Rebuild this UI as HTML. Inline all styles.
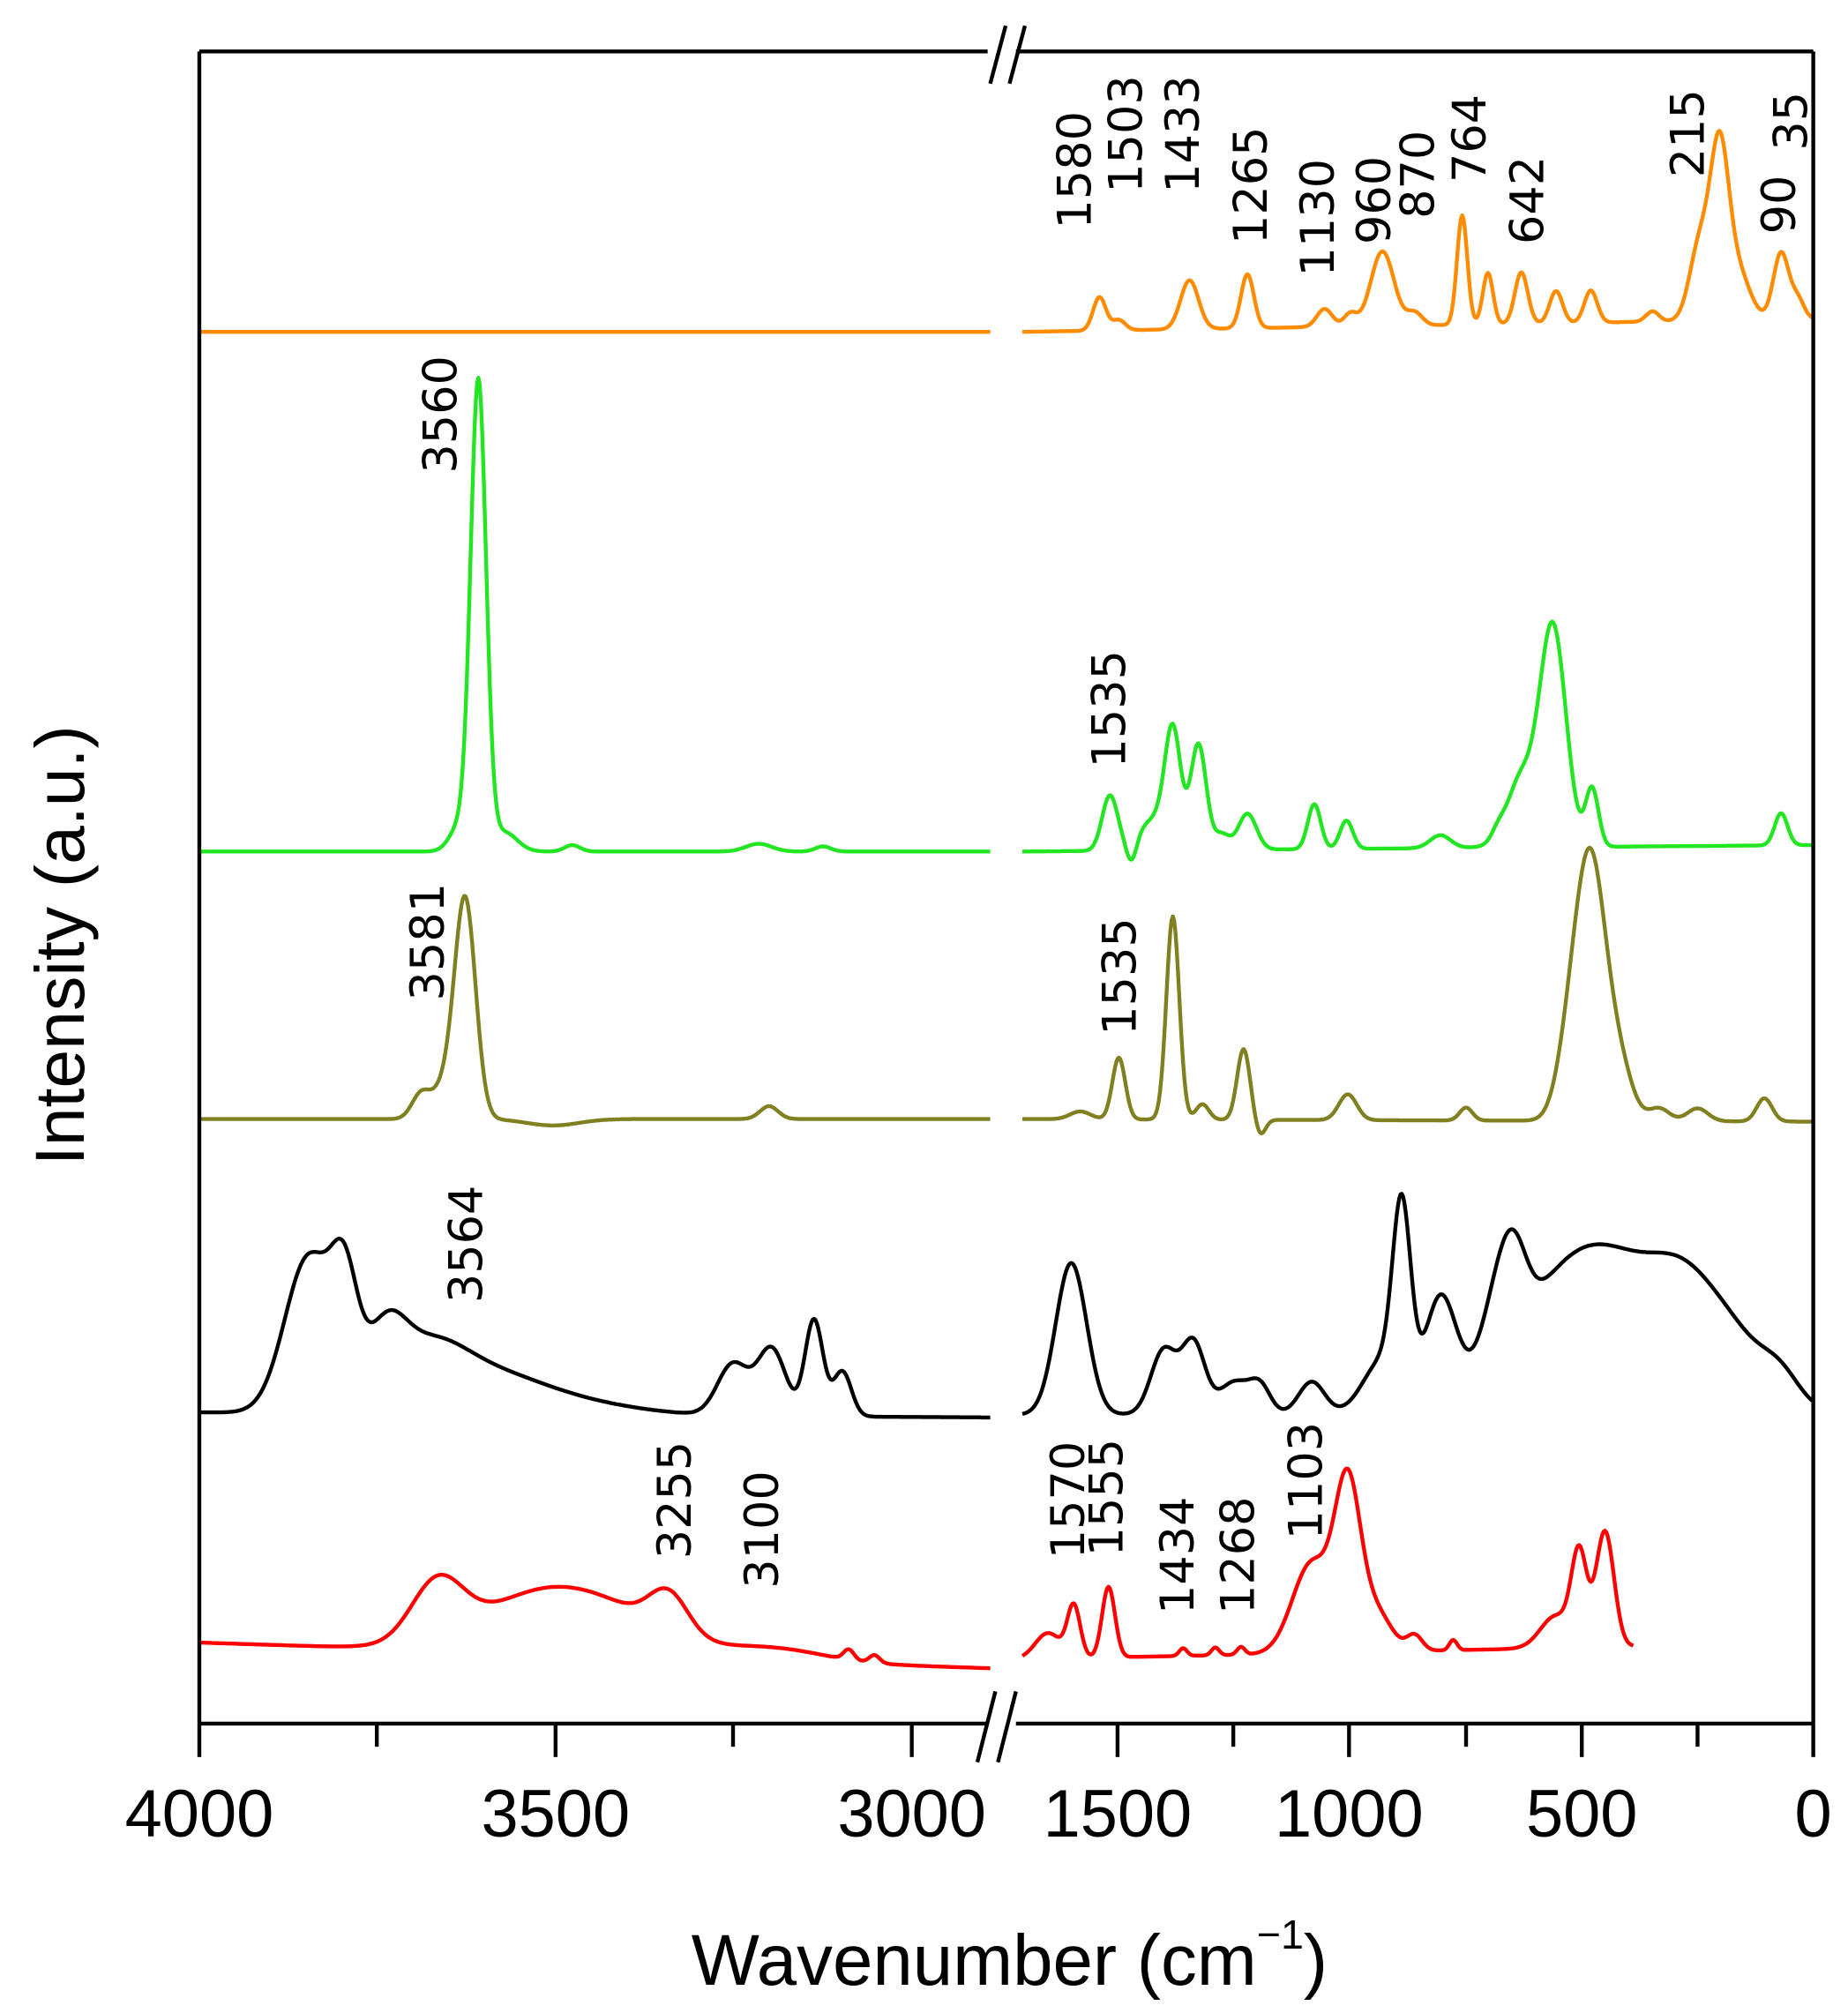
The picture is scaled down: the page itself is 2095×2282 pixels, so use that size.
<!DOCTYPE html>
<html><head><meta charset="utf-8"><style>html,body{margin:0;padding:0;background:#fff}svg{display:block}</style></head>
<body>
<svg id="s" width="2095" height="2282" viewBox="0 0 1437 1565" preserveAspectRatio="none" xmlns="http://www.w3.org/2000/svg">
<rect width="1437" height="1565" fill="#fff"/>
<g id="curves" fill="none" stroke-width="3" stroke-linejoin="round"></g>
<g stroke="#000" stroke-width="3" fill="none">
<line x1="155" y1="40" x2="1410" y2="40"/>
<line x1="155" y1="1340" x2="1410" y2="1340"/>
<line x1="155" y1="40" x2="155" y2="1340"/>
<line x1="1410" y1="40" x2="1410" y2="1340"/>
</g>
<g stroke="#fff" stroke-width="8"><line x1="768" y1="40" x2="790" y2="40"/><line x1="768" y1="1340" x2="790" y2="1340"/></g>
<g stroke="#000" stroke-width="3">
<line x1="770" y1="65" x2="782" y2="20"/><line x1="785" y1="65" x2="797" y2="20"/>
<line x1="760" y1="1370" x2="774" y2="1315"/><line x1="776" y1="1370" x2="790" y2="1315"/>
<line x1="155" y1="1340" x2="155" y2="1366"/><line x1="432" y1="1340" x2="432" y2="1366"/><line x1="709" y1="1340" x2="709" y2="1366"/>
<line x1="293" y1="1340" x2="293" y2="1358"/><line x1="570" y1="1340" x2="570" y2="1358"/>
<line x1="869" y1="1340" x2="869" y2="1366"/><line x1="1049" y1="1340" x2="1049" y2="1366"/><line x1="1230" y1="1340" x2="1230" y2="1366"/><line x1="1410" y1="1340" x2="1410" y2="1366"/>
<line x1="959" y1="1340" x2="959" y2="1358"/><line x1="1140" y1="1340" x2="1140" y2="1358"/><line x1="1320" y1="1340" x2="1320" y2="1358"/>
</g>
<g font-family="Liberation Sans, Arial, sans-serif" font-size="52" text-anchor="middle" fill="#000">
<text x="155" y="1428">4000</text><text x="432" y="1428">3500</text><text x="709" y="1428">3000</text>
<text x="869" y="1428">1500</text><text x="1049" y="1428">1000</text><text x="1230" y="1428">500</text><text x="1410" y="1428">0</text>
<text x="785" y="1543" font-size="56">Wavenumber (cm<tspan font-size="32" dy="-28">−1</tspan><tspan dy="28">)</tspan></text>
<text transform="translate(65,735) rotate(-90)" font-size="54">Intensity (a.u.)</text>
</g>
<g font-family="DejaVu Sans, Liberation Sans, sans-serif" font-size="36" fill="#000">
<text transform="translate(848,178) rotate(-90)">1580</text>
<text transform="translate(888,150) rotate(-90)">1503</text>
<text transform="translate(932,150) rotate(-90)">1433</text>
<text transform="translate(985,190) rotate(-90)">1265</text>
<text transform="translate(1037,215) rotate(-90)">1130</text>
<text transform="translate(1081,190) rotate(-90)">960</text>
<text transform="translate(1115,170) rotate(-90)">870</text>
<text transform="translate(1155,142) rotate(-90)">764</text>
<text transform="translate(1200,190) rotate(-90)">642</text>
<text transform="translate(1325,138) rotate(-90)">215</text>
<text transform="translate(1396,182) rotate(-90)">90</text>
<text transform="translate(1405,117) rotate(-90)">35</text>
<text transform="translate(355,368) rotate(-90)">3560</text>
<text transform="translate(875,597) rotate(-90)">1535</text>
<text transform="translate(345,778) rotate(-90)">3581</text>
<text transform="translate(883,805) rotate(-90)">1535</text>
<text transform="translate(375,1013) rotate(-90)">3564</text>
<text transform="translate(537,1212) rotate(-90)">3255</text>
<text transform="translate(605,1235) rotate(-90)">3100</text>
<text transform="translate(843,1212) rotate(-90)">1570</text>
<text transform="translate(873,1210) rotate(-90)">1555</text>
<text transform="translate(928,1255) rotate(-90)">1434</text>
<text transform="translate(975,1255) rotate(-90)">1268</text>
<text transform="translate(1028,1197) rotate(-90)">1103</text>
</g>
</svg>
<script>
function mk(x0,x1,b0,b1,peaks){
  var d='';
  for(var x=x0;x<=x1;x+=1){
    var t=(x-x0)/(x1-x0), y=b0+(b1-b0)*t;
    for(var i=0;i<peaks.length;i++){var p=peaks[i];y-=p[1]*Math.exp(-Math.pow((x-p[0])/p[2],2)/2);}
    d+=(x==x0?'M':'L')+x+' '+y.toFixed(1);
  }
  return d;
}
var S=[
 ['#ff8c00',[[155,770,258,258,[]],[795,1410,258,248,[[855,26,5],[870,8,5],[925,38,7],[970,42,5],[1030,14,6],[1050,10,5],[1075,58,9],[1100,10,6],[1137,85,4],[1157,40,4],[1183,40,5],[1210,25,5],[1237,25,5],[1285,8,5],[1322,60,8],[1337,120,7],[1350,40,10],[1385,52,6],[1398,15,5]]]]],
 ['#22e622',[[155,770,662,662,[[372,362,6],[358,20,8],[392,15,10],[445,5,6],[590,6,10],[640,4,6]]],[795,1410,662,657,[[863,42,6],[880,-18,4],[912,80,6],[932,80,6],[900,25,15],[970,28,7],[950,12,6],[1022,35,5],[1047,22,5],[1120,10,8],[1165,8,5],[1180,20,8],[1208,155,10],[1190,40,15],[1238,45,5],[1385,25,5]]]]],
 ['#808020',[[155,770,870,870,[[362,155,8],[350,30,12],[327,17,7],[598,10,7],[430,-5,20]]],[795,1410,870,872,[[840,6,8],[870,48,5],[912,158,5],[935,12,5],[967,55,5],[980,-12,4],[1048,20,7],[1140,10,5],[1237,200,12],[1220,40,10],[1260,35,10],[1290,10,8],[1320,10,8],[1372,18,6]]]]],
 ['#000000',[[155,770,1098,1102,[[238,100,18],[268,72,10],[255,30,20],[300,45,15],[330,45,30],[380,25,40],[440,10,50],[570,40,12],[600,52,11],[633,75,7],[655,35,7]]],[795,1410,1100,1098,[[833,118,12],[905,50,10],[928,55,9],[960,25,12],[980,20,8],[1020,25,10],[1090,140,7],[1075,40,15],[1120,80,12],[1165,50,12],[1178,45,10],[1240,130,55],[1310,50,25],[1350,40,25],[1385,20,15]]]]],
 ['#ff0000',[[155,770,1277,1297,[[340,45,20],[430,50,55],[520,30,15],[500,10,40],[600,10,40],[660,8,4],[680,6,4]]],[795,1410,1290,1280,[[835,40,5],[815,20,10],[862,55,5],[920,6,3],[945,6,3],[965,6,3],[1020,70,15],[1048,125,10],[1070,30,12],[1100,12,6],[1130,8,3],[1228,70,6],[1210,25,12],[1248,90,7]]]]]
];
var g=document.getElementById('curves');
S.forEach(function(s){
  s[1].forEach(function(seg){
    var x1=seg[1];
    if(s[0]=='#ff0000'&&seg[0]==795)x1=1270;
    var p=document.createElementNS('http://www.w3.org/2000/svg','path');
    p.setAttribute('d',mk(seg[0],x1,seg[2],seg[3],seg[4]));
    p.setAttribute('stroke',s[0]);g.appendChild(p);
  });
});
</script>
</body></html>
